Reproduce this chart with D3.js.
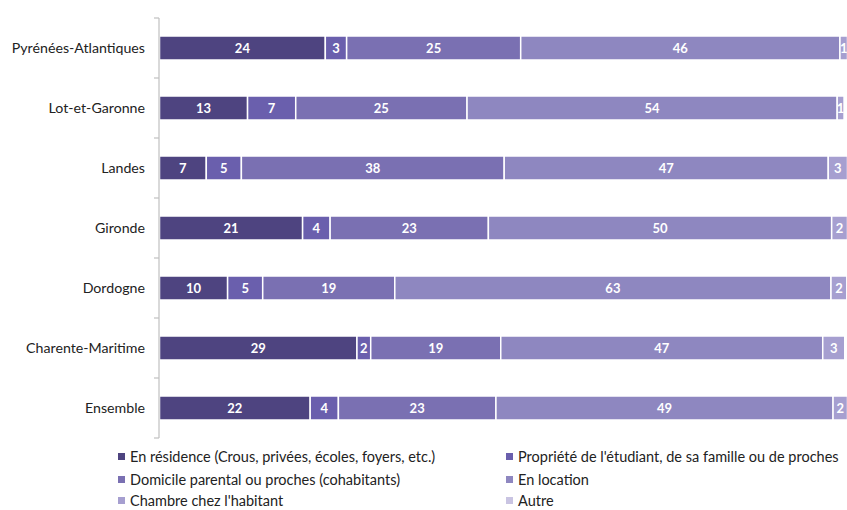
<!DOCTYPE html>
<html><head><meta charset="utf-8">
<script src="https://cdn.jsdelivr.net/npm/d3@7"></script>
<style>body{margin:0;background:#fff;} svg{display:block;}</style>
</head><body>
<svg id="c" width="847" height="510"></svg>
<script>
const categories = ["Pyrénées-Atlantiques","Lot-et-Garonne","Landes","Gironde","Dordogne","Charente-Maritime","Ensemble"];
const seriesNames = ["En résidence (Crous, privées, écoles, foyers, etc.)","Propriété de l'étudiant, de sa famille ou de proches","Domicile parental ou proches (cohabitants)","En location","Chambre chez l'habitant","Autre"];
const enResidence = [24.1, 12.8, 6.8, 20.8, 9.9, 28.7, 21.9];
const propriete   = [3.1, 7.0, 5.1, 4.0, 5.1, 2.0, 4.1];
const domicile    = [25.3, 24.9, 38.2, 23.0, 19.2, 18.9, 22.9];
const location_   = [46.4, 53.8, 47.1, 49.9, 63.4, 46.8, 49.0];
const chambre     = [1.1, 1.0, 2.8, 2.3, 2.3, 3.2, 2.1];
const autre       = [0, 0, 0, 0, 0, 0, 0];
const colors = ["#4e4480","#6a5fad","#7a70b2","#8e87c0","#a69fd0","#c9c4e2"];
const xTicks = [0, 100];

const svg = d3.select("#c");
const FONT = "Lato, 'Open Sans', sans-serif";
const x = d3.scaleLinear().domain(xTicks).range([159.5, 847.5]);
const y = d3.scaleBand().domain(categories).range([18, 438]).paddingInner(0.6).paddingOuter(0.3);

const rows = categories.map((c,i)=>({cat:c, s0:enResidence[i], s1:propriete[i], s2:domicile[i], s3:location_[i], s4:chambre[i], s5:autre[i]}));
const keys = ["s0","s1","s2","s3","s4","s5"];
const stacked = d3.stack().keys(keys)(rows);

const g = svg.append("g");
stacked.forEach((layer, li) => {
  const lg = g.append("g");
  layer.forEach(d => {
    const w = x(d[1]) - x(d[0]);
    if (w <= 0) return;
    lg.append("rect")
      .attr("x", x(d[0])).attr("y", y(d.data.cat))
      .attr("width", w).attr("height", y.bandwidth())
      .attr("fill", colors[li]).attr("stroke", "#fff").attr("stroke-width", 1.5);
    lg.append("text")
      .attr("x", (x(d[0]) + x(d[1])) / 2).attr("y", y(d.data.cat) + y.bandwidth()/2)
      .attr("dy", "0.36em").attr("text-anchor", "middle")
      .attr("font-family", FONT).attr("font-weight", "bold").attr("font-size", 13)
      .attr("fill", "#fff").text(d3.format(".0f")(d[1]-d[0]));
  });
});

// Y axis
const yAxisG = svg.append("g").attr("transform", "translate(159,0)");
yAxisG.append("line").attr("x1",0).attr("x2",0).attr("y1",18).attr("y2",438).attr("stroke","#c0c0c0").attr("stroke-width",1.2);
const step = y.step();
const bounds = d3.range(categories.length+1).map(i => 18 + i*step);
yAxisG.selectAll("line.tk").data(bounds).join("line").attr("class","tk")
  .attr("x1",-5).attr("x2",0).attr("y1",d=>d).attr("y2",d=>d).attr("stroke","#c0c0c0").attr("stroke-width",1.2);
svg.append("g").selectAll("text").data(categories).join("text")
  .attr("x", 145).attr("y", d => y(d) + y.bandwidth()/2).attr("dy","0.36em")
  .attr("text-anchor","end").attr("font-family",FONT).attr("font-size",14.2).attr("fill","#222")
  .text(d=>d);

// Legend
const legCols = [118, 506];
const legRows = [457, 480, 501];
seriesNames.forEach((n,i) => {
  const lx = legCols[i%2], ly = legRows[Math.floor(i/2)];
  svg.append("rect").attr("x", lx).attr("y", ly-4).attr("width",7).attr("height",7).attr("fill",colors[i]);
  svg.append("text").attr("x", lx+12).attr("y", ly).attr("dy","0.36em")
    .attr("font-family",FONT).attr("font-size",14.5).attr("fill","#222").text(n);
});
</script>
</body></html>
